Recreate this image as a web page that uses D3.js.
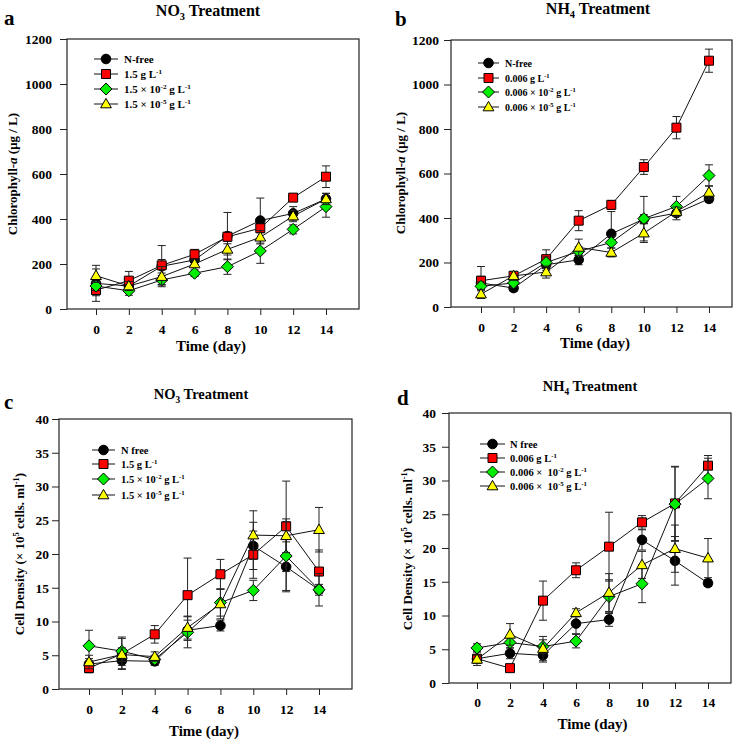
<!DOCTYPE html>
<html><head><meta charset="utf-8">
<script src="https://cdn.jsdelivr.net/npm/d3@7"></script>
<style>
body{margin:0;background:#fff}
svg{display:block}
text{font-family:"Liberation Serif","Times New Roman",serif;font-weight:bold;fill:#000}
</style>
</head><body>
<svg id="chart" width="746" height="744"></svg>
<script>
// ---------- DATA ----------
const days = [0, 2, 4, 6, 8, 10, 12, 14];
const xTicks = [0, 2, 4, 6, 8, 10, 12, 14];
const chlTicks = [0, 200, 400, 600, 800, 1000, 1200];
const cellTicks = [0, 5, 10, 15, 20, 25, 30, 35, 40];

// (a) Chlorophyll-a, NO3
const chlNO3_Nfree      = [114, 102, 190, 218, 324, 393, 425, 489];
const chlNO3_Nfree_err  = [80, 20, 30, 20, 105, 100, 30, 25];
const chlNO3_high       = [84, 126, 194, 243, 321, 359, 495, 588];
const chlNO3_high_err   = [25, 41, 88, 22, 20, 20, 15, 48];
const chlNO3_mid        = [102, 81, 129, 159, 188, 258, 354, 455];
const chlNO3_mid_err    = [20, 20, 20, 15, 34, 55, 20, 47];
const chlNO3_low        = [148, 102, 144, 200, 265, 319, 413, 489];
const chlNO3_low_err    = [30, 20, 45, 15, 25, 30, 25, 25];

// (b) Chlorophyll-a, NH4
const chlNH4_Nfree      = [108, 85, 190, 212, 329, 395, 422, 486];
const chlNH4_Nfree_err  = [30, 15, 25, 22, 100, 20, 30, 15];
const chlNH4_high       = [118, 140, 215, 388, 459, 629, 806, 1107];
const chlNH4_high_err   = [64, 20, 42, 45, 20, 33, 50, 52];
const chlNH4_mid        = [93, 108, 200, 250, 290, 397, 452, 591];
const chlNH4_mid_err    = [20, 20, 25, 20, 25, 100, 45, 48];
const chlNH4_low        = [58, 140, 157, 268, 245, 332, 429, 515];
const chlNH4_low_err    = [20, 20, 27, 37, 20, 42, 20, 30];

// (c) Cell density, NO3
const cellNO3_Nfree     = [3.7, 4.2, 4.1, 8.7, 9.4, 21.2, 18.1, 14.7];
const cellNO3_Nfree_err = [0.8, 1.2, 0.6, 1.5, 0.8, 3.5, 3.7, 0.8];
const cellNO3_high      = [3.1, 5.2, 8.1, 13.9, 17.0, 19.9, 24.1, 17.4];
const cellNO3_high_err  = [0.7, 2.3, 1.3, 5.5, 2.2, 3.5, 6.7, 3.2];
const cellNO3_mid       = [6.4, 5.6, 4.4, 8.4, 12.8, 14.6, 19.7, 14.7];
const cellNO3_mid_err   = [2.3, 2.1, 0.6, 2.3, 2.0, 1.5, 5.1, 2.4];
const cellNO3_low       = [4.0, 5.1, 4.8, 9.1, 12.6, 22.8, 22.7, 23.6];
const cellNO3_low_err   = [1.0, 1.0, 0.7, 1.7, 2.2, 3.6, 2.5, 3.3];

// (d) Cell density, NH4
const cellNH4_Nfree     = [3.6, 4.4, 4.1, 8.8, 9.4, 21.2, 18.1, 14.8];
const cellNH4_Nfree_err = [1.0, 0.8, 1.0, 1.5, 1.0, 1.5, 3.6, 0.5];
const cellNH4_high      = [3.6, 2.2, 12.2, 16.7, 20.2, 23.8, 26.6, 32.2];
const cellNH4_high_err  = [0.5, 0.3, 2.9, 1.1, 5.1, 1.0, 5.5, 1.5];
const cellNH4_mid       = [5.2, 6.0, 5.4, 6.2, 12.8, 14.7, 26.5, 30.3];
const cellNH4_mid_err   = [0.6, 0.8, 1.0, 1.0, 2.5, 2.8, 5.5, 3.0];
const cellNH4_low       = [3.5, 7.2, 5.1, 10.4, 13.4, 17.5, 19.9, 18.5];
const cellNH4_low_err   = [0.6, 1.6, 1.8, 0.6, 2.8, 2.0, 3.5, 2.9];

const legendNO3chl  = ["N-free", "1.5 g L^{-1}", "1.5 × 10^{-2} g L^{-1}", "1.5 × 10^{-5} g L^{-1}"];
const legendNH4chl  = ["N-free", "0.006 g L^{-1}", "0.006 × 10^{-2} g L^{-1}", "0.006 × 10^{-5} g L^{-1}"];
const legendNO3cell = ["N free", "1.5 g L^{-1}", "1.5 × 10^{-2} g L^{-1}", "1.5 × 10^{-5} g L^{-1}"];
const legendNH4cell = ["N free", "0.006 g L^{-1}", "0.006 ×\u00a0 10^{-2} g L^{-1}", "0.006 ×\u00a0 10^{-5} g L^{-1}"];

const seriesStyle = [
  {shape: "circle",   fill: "#000000"},
  {shape: "square",   fill: "#ff0000"},
  {shape: "diamond",  fill: "#00ee00"},
  {shape: "triangle", fill: "#ffff00"}
];

// ---------- LAYOUT ----------
const panels = [
  {letter: "a", lx: 4, ly: 25, frame: [67, 39, 359, 309], xr: [96, 326], ymax: 1200, yticks: chlTicks,
   tickPad: 8, title: "NO_{3} Treatment", tx: 208, ty: 16, tsize: 16,
   ytitle: "Chlorophyll-*{a} (μg / L)", ytx: 17, yty: 174, xlabY: 25, xtitleY: 351,
   legend: legendNO3chl, legX: [94, 118], legTextX: 124, legY: [59, 74, 89, 104], legSize: 11,
   data: [[chlNO3_Nfree, chlNO3_Nfree_err], [chlNO3_high, chlNO3_high_err], [chlNO3_mid, chlNO3_mid_err], [chlNO3_low, chlNO3_low_err]]},
  {letter: "b", lx: 395, ly: 26, frame: [451, 40, 732, 307], xr: [481, 709], ymax: 1200, yticks: chlTicks,
   tickPad: 5, title: "NH_{4} Treatment", tx: 598, ty: 14, tsize: 16,
   ytitle: "Chlorophyll-*{a} (μg / L)", ytx: 405, yty: 173, xlabY: 25, xtitleY: 348,
   legend: legendNH4chl, legX: [478, 499], legTextX: 505, legY: [63, 78, 92, 107], legSize: 10,
   data: [[chlNH4_Nfree, chlNH4_Nfree_err], [chlNH4_high, chlNH4_high_err], [chlNH4_mid, chlNH4_mid_err], [chlNH4_low, chlNH4_low_err]]},
  {letter: "c", lx: 4, ly: 409, frame: [59, 419, 352, 689], xr: [89, 319], ymax: 40, yticks: cellTicks,
   tickPad: 3, title: "NO_{3} Treatment", tx: 201, ty: 399, tsize: 14.5,
   ytitle: "Cell Density (× 10^{5} cells. ml^{-1})", ytx: 24, yty: 554, xlabY: 25, xtitleY: 736,
   legend: legendNO3cell, legX: [92, 115], legTextX: 121, legY: [450, 464, 479, 495], legSize: 10.5,
   data: [[cellNO3_Nfree, cellNO3_Nfree_err], [cellNO3_high, cellNO3_high_err], [cellNO3_mid, cellNO3_mid_err], [cellNO3_low, cellNO3_low_err]]},
  {letter: "d", lx: 397, ly: 405, frame: [449, 413, 731, 683], xr: [477, 708], ymax: 40, yticks: cellTicks,
   tickPad: 6, title: "NH_{4} Treatment", tx: 590, ty: 391, tsize: 14.5,
   ytitle: "Cell Density (× 10^{5} cells. ml^{-1})", ytx: 412, yty: 549, xlabY: 24, xtitleY: 729,
   legend: legendNH4cell, legX: [480, 505], legTextX: 510, legY: [444, 458, 472, 486], legSize: 10.5,
   data: [[cellNH4_Nfree, cellNH4_Nfree_err], [cellNH4_high, cellNH4_high_err], [cellNH4_mid, cellNH4_mid_err], [cellNH4_low, cellNH4_low_err]]}
];

const svg = d3.select("#chart");

function rich(sel, str, size) {
  const parts = str.split(/(\^\{[^}]*\}|_\{[^}]*\}|\*\{[^}]*\})/).filter(p => p !== "");
  let shift = 0;
  parts.forEach(p => {
    let t = p, dy = 0, fs = size, italic = false;
    if (p.startsWith("^{")) { t = p.slice(2, -1); dy = -0.38 * size; fs = size * 0.65; }
    else if (p.startsWith("_{")) { t = p.slice(2, -1); dy = 0.28 * size; fs = size * 0.65; }
    else if (p.startsWith("*{")) { t = p.slice(2, -1); italic = true; }
    const ts = sel.append("tspan").text(t).attr("font-size", fs);
    const d = dy - shift;
    if (d) ts.attr("dy", d);
    shift = dy;
    if (italic) ts.attr("font-style", "italic");
  });
}

function marker(shape) {
  switch (shape) {
    case "circle": return d3.symbol(d3.symbolCircle, Math.PI * 4.8 * 4.8)();
    case "square": return "M-4.5,-4.5H4.5V4.5H-4.5Z";
    case "diamond": return "M0,-6L6,0L0,6L-6,0Z";
    case "triangle": return "M0,-5.6L5.4,3.8L-5.4,3.8Z";
  }
}

panels.forEach(P => {
  const [fl, ft, fr, fb] = P.frame;
  const x = d3.scaleLinear().domain([0, 14]).range(P.xr);
  const y = d3.scaleLinear().domain([0, P.ymax]).range([fb, ft]);
  const g = svg.append("g");

  // axes
  const ya = g.append("g").attr("transform", `translate(${fl},0)`)
    .call(d3.axisLeft(y).tickValues(P.yticks).tickSize(7).tickPadding(P.tickPad).tickFormat(d3.format("d")));
  ya.select(".domain").remove();
  ya.selectAll("line").attr("stroke", "#222");
  ya.selectAll("text").attr("font-size", 13.5).style("font-family", "Liberation Serif").style("font-weight", "bold");

  const xa = g.append("g").attr("transform", `translate(0,${fb})`)
    .call(d3.axisBottom(x).tickValues(xTicks).tickSize(6).tickFormat(d3.format("d")));
  xa.select(".domain").remove();
  xa.selectAll("line").attr("stroke", "#222");
  xa.selectAll("text").attr("font-size", 13.5).attr("y", P.xlabY).attr("dy", 0)
    .style("font-family", "Liberation Serif").style("font-weight", "bold");

  // frame
  g.append("rect").attr("x", fl).attr("y", ft).attr("width", fr - fl).attr("height", fb - ft)
    .attr("fill", "none").attr("stroke", "#222").attr("stroke-width", 1.2);

  // titles
  rich(g.append("text").attr("x", P.tx).attr("y", P.ty).attr("text-anchor", "middle"), P.title, P.tsize);
  g.append("text").attr("x", P.lx).attr("y", P.ly).attr("font-size", 21).text(P.letter);
  g.append("text").attr("x", x(7)).attr("y", P.xtitleY)
    .attr("text-anchor", "middle").attr("font-size", 15).text("Time (day)");
  rich(g.append("text").attr("transform", `translate(${P.ytx},${P.yty}) rotate(-90)`).attr("text-anchor", "middle"),
       P.ytitle, 13);

  // series
  P.data.forEach(([vals, errs], si) => {
    const st = seriesStyle[si];
    const pts = days.map((d, i) => ({d, v: vals[i], e: errs[i]}));
    const sg = g.append("g");
    // error bars
    const eb = sg.selectAll(".eb").data(pts).enter().append("g").attr("stroke", "#222").attr("stroke-width", 1);
    eb.append("line").attr("x1", p => x(p.d)).attr("x2", p => x(p.d)).attr("y1", p => y(p.v - p.e)).attr("y2", p => y(p.v + p.e));
    eb.append("line").attr("x1", p => x(p.d) - 4).attr("x2", p => x(p.d) + 4).attr("y1", p => y(p.v + p.e)).attr("y2", p => y(p.v + p.e));
    eb.append("line").attr("x1", p => x(p.d) - 4).attr("x2", p => x(p.d) + 4).attr("y1", p => y(p.v - p.e)).attr("y2", p => y(p.v - p.e));
    // line
    sg.append("path").datum(pts).attr("fill", "none").attr("stroke", "#111").attr("stroke-width", 1)
      .attr("d", d3.line().x(p => x(p.d)).y(p => y(p.v)));
    // markers
    sg.selectAll(".mk").data(pts).enter().append("path")
      .attr("d", marker(st.shape)).attr("transform", p => `translate(${x(p.d)},${y(p.v)})`)
      .attr("fill", st.fill).attr("stroke", "#000").attr("stroke-width", 1);

    // legend
    const ly = P.legY[si];
    g.append("line").attr("x1", P.legX[0]).attr("x2", P.legX[1]).attr("y1", ly).attr("y2", ly)
      .attr("stroke", "#111").attr("stroke-width", 1);
    g.append("path").attr("d", marker(st.shape)).attr("transform", `translate(${(P.legX[0] + P.legX[1]) / 2},${ly})`)
      .attr("fill", st.fill).attr("stroke", "#000").attr("stroke-width", 1);
    rich(g.append("text").attr("x", P.legTextX).attr("y", ly + P.legSize * 0.35), P.legend[si], P.legSize);
  });
});
</script>
</body></html>
